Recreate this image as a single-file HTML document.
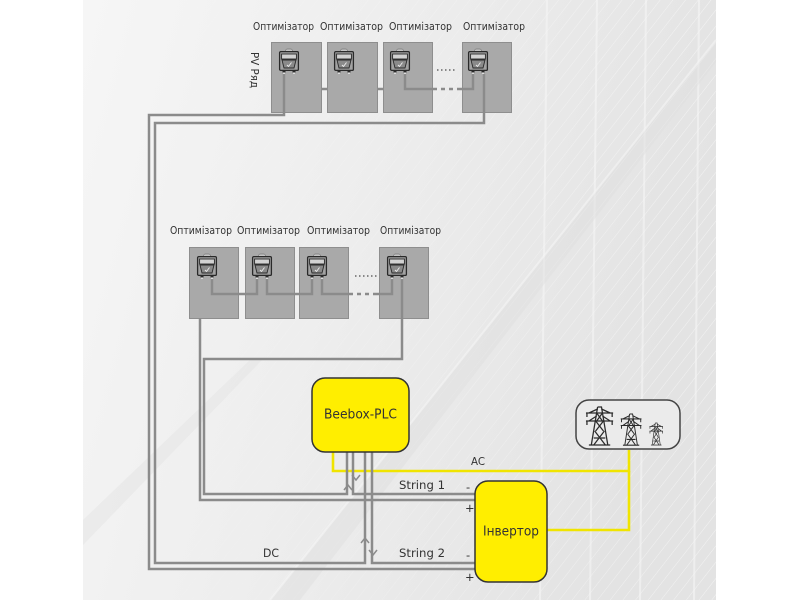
<!DOCTYPE html>
<html><head><meta charset="utf-8"><style>
html,body{margin:0;padding:0;background:#fff;}
svg{display:block}
text{font-family:"DejaVu Sans","Liberation Sans",sans-serif;fill:#333}
</style></head><body>
<svg width="800" height="600" viewBox="0 0 800 600" xmlns="http://www.w3.org/2000/svg">
<defs>
<linearGradient id="bg" x1="0" y1="0" x2="1" y2="0.25">
<stop offset="0" stop-color="#f6f6f6"/>
<stop offset="0.45" stop-color="#eeeeee"/>
<stop offset="1" stop-color="#e3e3e3"/>
</linearGradient>
<linearGradient id="fade" x1="0" y1="0" x2="1" y2="0">
<stop offset="0" stop-color="#fff" stop-opacity="0"/>
<stop offset="0.5" stop-color="#fff" stop-opacity="0.25"/>
<stop offset="1" stop-color="#fff" stop-opacity="0.6"/>
</linearGradient>
<pattern id="str" width="10" height="10" patternUnits="userSpaceOnUse" patternTransform="rotate(-52)">
<line x1="0" y1="0" x2="10" y2="0" stroke="#fff" stroke-width="1"/>
</pattern>
<mask id="m1"><rect x="83" y="0" width="633" height="600" fill="url(#fade)"/></mask>
<g id="opt">
<rect x="6.5" y="0" width="7" height="4" rx="2" fill="#c4c4c4" stroke="#7a7a7a" stroke-width="0.7"/>
<rect x="0.6" y="2.6" width="18.8" height="18.8" rx="1.2" fill="#a2a2a2" stroke="#2a2a2a" stroke-width="1.3"/>
<rect x="2.6" y="5" width="14.8" height="5" fill="#d2d2d2" stroke="#2a2a2a" stroke-width="0.9"/>
<path d="M3,11 H17 L15,19 H5 Z" fill="#8a8a8a" stroke="#2a2a2a" stroke-width="0.9"/>
<path d="M8,16 L9.5,17.5 L12.5,13.5" fill="none" stroke="#eee" stroke-width="0.9"/>
<rect x="3.5" y="21.3" width="3" height="2.2" fill="#2a2a2a"/>
<rect x="13.5" y="21.3" width="3" height="2.2" fill="#2a2a2a"/>
<rect x="4" y="23.6" width="2" height="1" fill="#fff"/>
<rect x="14" y="23.6" width="2" height="1" fill="#fff"/>
</g>
<g id="pyl" fill="none" stroke="#2b2b2b" stroke-width="1.3">
<path d="M13,0 H17 L23.5,38 M13,0 L6.5,38"/>
<path d="M1,6 H29 M1,14 H29 M4,6 L13,2 M26,6 L17,2 M4,14 L12,9 M26,14 L18,9"/>
<path d="M2,6 V10 M28,6 V10 M2,14 V18 M28,14 V18"/>
<path d="M12,6 L18,14 M18,6 L12,14 M11,14 L19,24 M19,14 L11,24 M10,24 L21,38 M20,24 L9,38 M9,31 H21"/>
<path d="M4,38 H26"/>
</g>
</defs>

<!-- background -->
<rect x="83" y="0" width="633" height="600" fill="url(#bg)"/>
<rect x="83" y="0" width="633" height="600" fill="url(#str)" mask="url(#m1)"/>
<g stroke="#f6f6f6" stroke-width="2" opacity="0.6">
<line x1="547" y1="0" x2="540" y2="600"/>
<line x1="597" y1="0" x2="590" y2="600"/>
<line x1="646" y1="0" x2="640" y2="600"/>
<line x1="699" y1="0" x2="694" y2="600"/>
</g>
<path d="M716,40 L716,62 L300,600 L270,600 Z" fill="#dedede" opacity="0.45"/>
<path d="M716,40 L270,600" stroke="#f6f6f6" stroke-width="2" opacity="0.6"/>
<path d="M83,520 L250,360 L262,360 L83,545 Z" fill="#e4e4e4" opacity="0.5"/>

<!-- yellow AC -->
<g fill="none" stroke="#f0e400" stroke-width="2.6">
<path d="M333,452 V471 H629 V450"/>
<path d="M547,530 H629 V471"/>
</g>

<!-- top row link wire behind panels -->
<line x1="294" y1="89" x2="395" y2="89" stroke="#8b8b8b" stroke-width="2.5"/>

<!-- panels -->
<g fill="#a9a9a9" stroke="#8e8e8e" stroke-width="1">
<rect x="271.5" y="42.5" width="50" height="70"/>
<rect x="327.5" y="42.5" width="50" height="70"/>
<rect x="383.5" y="42.5" width="49" height="70"/>
<rect x="462.5" y="42.5" width="49" height="70"/>
<rect x="189.5" y="247.5" width="49" height="71"/>
<rect x="245.5" y="247.5" width="49" height="71"/>
<rect x="299.5" y="247.5" width="49" height="71"/>
<rect x="379.5" y="247.5" width="49" height="71"/>
</g>

<!-- icons -->
<use href="#opt" x="279" y="49"/>
<use href="#opt" x="334" y="49"/>
<use href="#opt" x="390" y="49"/>
<use href="#opt" x="468" y="49"/>
<use href="#opt" x="197" y="254"/>
<use href="#opt" x="252" y="254"/>
<use href="#opt" x="307" y="254"/>
<use href="#opt" x="387" y="254"/>

<!-- dotted ..... -->
<g stroke="#666" stroke-width="1.5" stroke-dasharray="1.5,2.5">
<line x1="437" y1="70" x2="456" y2="70"/>
<line x1="355" y1="276" x2="377" y2="276"/>
</g>

<!-- grey wires -->
<g fill="none" stroke="#8b8b8b" stroke-width="2.5">
<path d="M405,74 V89 H433"/>
<path d="M457,89 H473 V74"/>
<path d="M433,89 H457" stroke-dasharray="4,4"/>
<path d="M284,74 V115 H149 V569 H475"/>
<path d="M484,74 V123 H155 V563 H365 V452"/>
<path d="M372,452 V563 H475"/>
<path d="M212,279 V294 H257 V279"/>
<path d="M267,279 V294 H312 V279"/>
<path d="M322,279 V294 H349"/>
<path d="M349,294 H377" stroke-dasharray="4,4"/>
<path d="M377,294 H392 V279"/>
<path d="M200,318 V500 H475"/>
<path d="M402,279 V359 H204 V494 H347 V452"/>
<path d="M353,452 V494 H475"/>
</g>

<!-- chevrons -->
<g fill="none" stroke="#8b8b8b" stroke-width="1.5">
<polyline points="344,490 348,485 352,490"/>
<polyline points="352,475 356,480 360,475"/>
<polyline points="361,543 365,538 369,543"/>
<polyline points="369,550 373,555 377,550"/>
</g>

<!-- boxes -->
<rect x="312" y="378" width="97" height="74" rx="13" fill="#ffee00" stroke="#333" stroke-width="1.5"/>
<rect x="475" y="481" width="72" height="101" rx="13" fill="#ffee00" stroke="#333" stroke-width="1.5"/>
<rect x="576" y="400" width="104" height="49" rx="13" fill="#ebebeb" stroke="#444" stroke-width="1.5"/>

<!-- pylons -->
<use href="#pyl" transform="translate(585,407) scale(0.97,1)"/>
<use href="#pyl" transform="translate(620,414) scale(0.74,0.82)"/>
<use href="#pyl" transform="translate(649,423) scale(0.48,0.58)"/>

<!-- labels -->
<g font-size="10.5">
<text x="253" y="30" textLength="61" lengthAdjust="spacingAndGlyphs">Оптимізатор</text>
<text x="320" y="30" textLength="63" lengthAdjust="spacingAndGlyphs">Оптимізатор</text>
<text x="389" y="30" textLength="63" lengthAdjust="spacingAndGlyphs">Оптимізатор</text>
<text x="463" y="30" textLength="62" lengthAdjust="spacingAndGlyphs">Оптимізатор</text>
<text x="170" y="234" textLength="62" lengthAdjust="spacingAndGlyphs">Оптимізатор</text>
<text x="237" y="234" textLength="63" lengthAdjust="spacingAndGlyphs">Оптимізатор</text>
<text x="307" y="234" textLength="63" lengthAdjust="spacingAndGlyphs">Оптимізатор</text>
<text x="380" y="234" textLength="61" lengthAdjust="spacingAndGlyphs">Оптимізатор</text>
</g>
<text font-size="11" text-anchor="middle" transform="translate(251,70) rotate(90)" textLength="36" lengthAdjust="spacingAndGlyphs">PV Ряд</text>

<text x="324" y="418.5" font-size="13" textLength="73" lengthAdjust="spacingAndGlyphs">Beebox-PLC</text>
<text x="483" y="535.5" font-size="13" textLength="56" lengthAdjust="spacingAndGlyphs">Інвертор</text>

<g font-size="11.5">
<text x="399" y="489" textLength="46" lengthAdjust="spacingAndGlyphs">String 1</text>
<text x="399" y="557" textLength="46" lengthAdjust="spacingAndGlyphs">String 2</text>
<text x="263" y="557" textLength="16" lengthAdjust="spacingAndGlyphs">DC</text>
<text x="471" y="465" font-size="10.5" textLength="14" lengthAdjust="spacingAndGlyphs">AC</text>
<text x="466" y="491">-</text>
<text x="465" y="512">+</text>
<text x="466" y="559">-</text>
<text x="465" y="581">+</text>
</g>
</svg>
</body></html>
